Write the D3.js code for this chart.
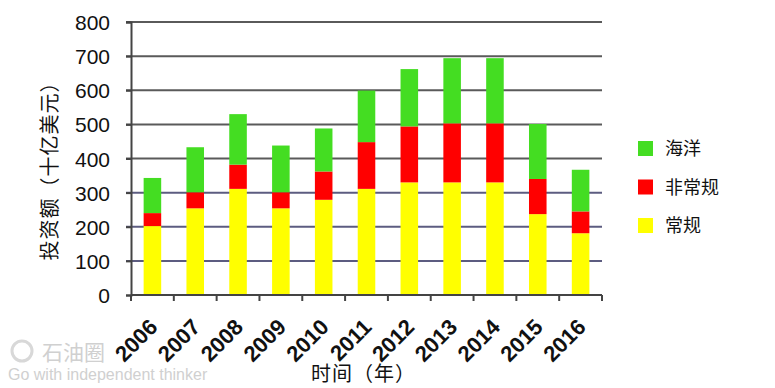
<!DOCTYPE html>
<html><head><meta charset="utf-8">
<script src="https://cdn.jsdelivr.net/npm/d3@7"></script>
<style>body{margin:0;background:#fff}svg{display:block}</style>
</head><body>
<svg id="c" width="775" height="388"></svg>
<script>
const years = ["2006","2007","2008","2009","2010","2011","2012","2013","2014","2015","2016"];
const conventional   = [202, 254, 311, 254, 279, 311, 330, 330, 330, 237, 181];
const unconventional = [ 38,  47,  71,  47,  83, 137, 164, 173, 173, 103,  64];
const offshore       = [103, 132, 148, 137, 126, 151, 168, 191, 191, 161, 122];
const yTicks = [0,100,200,300,400,500,600,700,800];
const seriesNames = ["常规","非常规","海洋"];
const seriesColors = ["#ffff00","#ff0000","#44dd22"];

const svg = d3.select("#c");
const m = {left:131, right:602, top:22, bottom:295};
const x = d3.scaleBand().domain(years).range([m.left, m.right]).paddingInner(0.59).paddingOuter(0.295);
const xb = d3.scaleBand().domain(years).range([m.left, m.right]);
const y = d3.scaleLinear().domain([0,800]).range([m.bottom, m.top]);

const table = years.map((yr,i)=>({year:yr, "常规":conventional[i], "非常规":unconventional[i], "海洋":offshore[i]}));
const stack = d3.stack().keys(seriesNames)(table);

// grid lines
svg.append("g").selectAll("line").data(yTicks.slice(1)).join("line")
  .attr("x1", m.left-5).attr("x2", m.right).attr("y1", d=>y(d)).attr("y2", d=>y(d))
  .attr("stroke", d=> d<=300 ? "#5c5c80" : "#5a5a5a").attr("stroke-width", 2);

// bars
svg.append("g").selectAll("g").data(stack).join("g")
  .attr("fill", (d,i)=>seriesColors[i])
  .selectAll("rect").data(d=>d).join("rect")
  .attr("x", d=>x(d.data.year)).attr("width", x.bandwidth())
  .attr("y", d=>y(d[1])).attr("height", d=>y(d[0])-y(d[1]));

// y axis
const yAxis = svg.append("g").attr("transform",`translate(${m.left},0)`)
  .call(d3.axisLeft(y).tickValues(yTicks).tickSize(5).tickPadding(16));
yAxis.select(".domain").attr("stroke","#444").attr("stroke-width",2);
yAxis.selectAll(".tick line").attr("stroke","#444").attr("stroke-width",2);
yAxis.selectAll("text").attr("font-family","Liberation Sans, Arial, sans-serif")
  .attr("font-size",21).attr("fill","#111").attr("dy","0.36em");

// x axis
const xAxis = svg.append("g").attr("transform",`translate(0,${m.bottom})`);
xAxis.append("line").attr("x1",m.left).attr("x2",m.right).attr("stroke","#444").attr("stroke-width",2);
xAxis.selectAll("line.t").data(years.concat(["end"])).join("line").attr("class","t")
  .attr("x1",(d,i)=> i<years.length ? xb(d) : m.right)
  .attr("x2",(d,i)=> i<years.length ? xb(d) : m.right)
  .attr("y1",0).attr("y2",6).attr("stroke","#444").attr("stroke-width",2);
xAxis.selectAll("text").data(years).join("text")
  .attr("transform", d=>`translate(${x(d)+x.bandwidth()/2+1},${28}) rotate(-45)`)
  .attr("text-anchor","end").attr("dy","0.35em")
  .attr("font-family","Liberation Sans, Arial, sans-serif").attr("font-weight","bold")
  .attr("font-size",22).attr("fill","#111").text(d=>d);

// axis titles
svg.append("text").attr("transform","translate(57,166) rotate(-90)")
  .attr("text-anchor","middle").attr("font-family","Noto Sans CJK SC, sans-serif")
  .attr("font-size",20).attr("letter-spacing",1).attr("fill","#111").text("投资额（十亿美元）");
svg.append("text").attr("x",311).attr("y",381)
  .attr("font-family","Noto Sans CJK SC, sans-serif")
  .attr("font-size",20).attr("letter-spacing",1).attr("fill","#111").text("时间（年）");

// legend
const legendOrder = [2,1,0];
const lg = svg.append("g").selectAll("g").data(legendOrder).join("g")
  .attr("transform",(d,i)=>`translate(638,${141+i*38.5})`);
lg.append("rect").attr("width",15).attr("height",15).attr("fill",d=>seriesColors[d]);
lg.append("text").attr("x",27).attr("y",8).attr("dy","0.36em")
  .attr("font-family","Noto Sans CJK SC, sans-serif").attr("font-size",18).attr("fill","#111")
  .text(d=>seriesNames[d]);

// watermark
const wm = svg.append("g").attr("fill","#d0d0d0");
wm.append("circle").attr("cx",22).attr("cy",351).attr("r",10).attr("fill","none").attr("stroke","#d8d8d8").attr("stroke-width",3);
wm.append("text").attr("x",42).attr("y",360).attr("font-family","Noto Sans CJK SC, sans-serif").attr("font-size",21).text("石油圈");
wm.append("text").attr("x",8).attr("y",380).attr("font-family","Liberation Sans, Arial, sans-serif").attr("font-size",16).text("Go with independent thinker");
</script>
</body></html>
